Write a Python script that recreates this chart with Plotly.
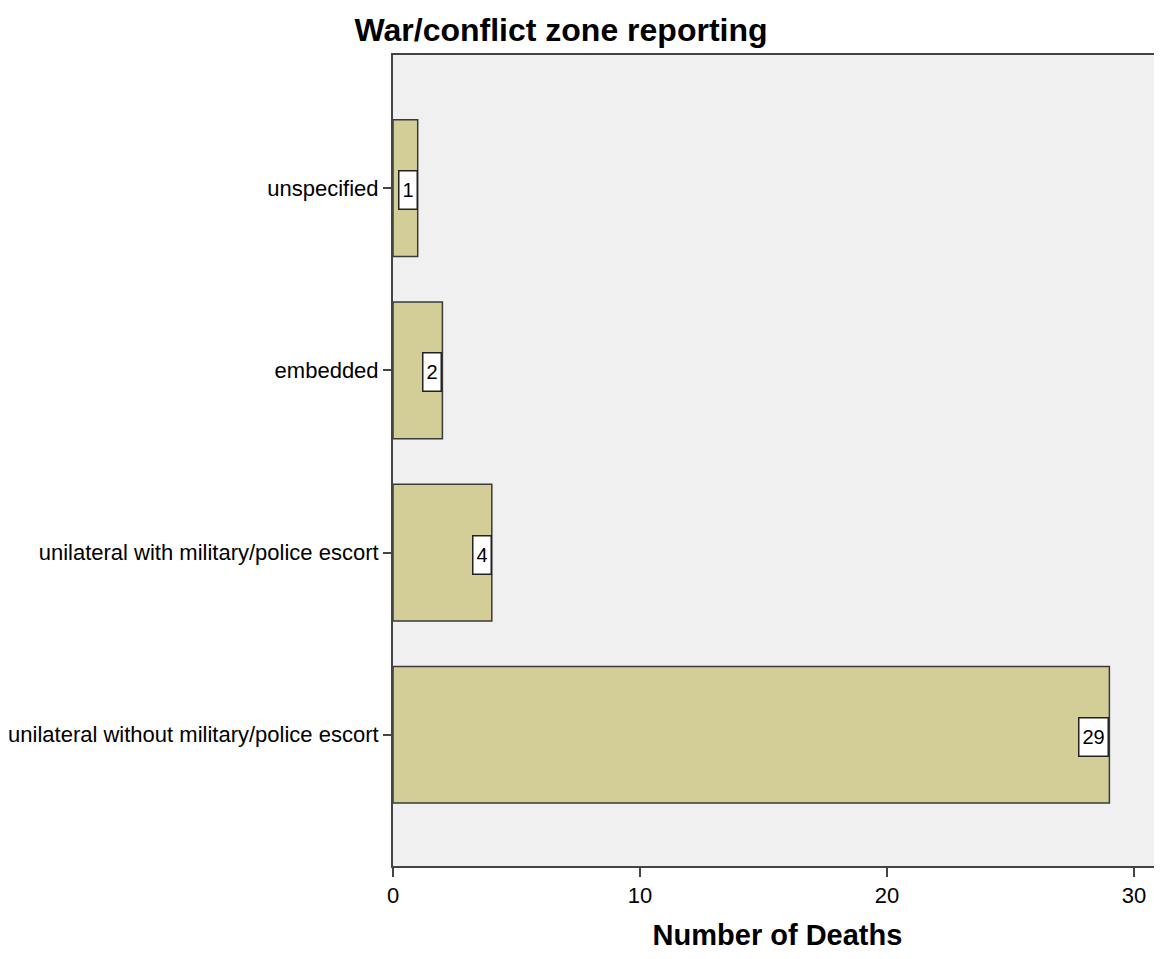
import plotly.graph_objects as go

categories = ["unspecified", "embedded", "unilateral with military/police escort",
              "unilateral without military/police escort"]
deaths = [1, 2, 4, 29]
x_ticks = [0, 10, 20, 30]

# The page body has an 8px margin, so the figure is sized/offset to fill the window.
W, H = 1154, 943

fig = go.Figure()
fig.add_trace(go.Bar(
    y=categories, x=deaths, orientation="h", width=0.75,
    marker=dict(color="#D3CE97", line=dict(color="#3a3a3a", width=1.5)),
    hoverinfo="x+y",
))

for c, v in zip(categories, deaths):
    fig.add_annotation(
        x=v, y=c, xref="x", yref="y", text=str(v), showarrow=False,
        xanchor="right", yanchor="middle", yshift=-2,
        font=dict(family="Liberation Sans, Arial", size=20, color="#000"),
        bgcolor="white", bordercolor="#222", borderwidth=1.5, borderpad=3,
        height=31,
    )

fig.update_layout(
    width=W, height=H,
    margin=dict(l=385, r=0, t=47, b=83),
    paper_bgcolor="white", plot_bgcolor="#F0F0F0",
    showlegend=False,
    title=dict(text="<b>War/conflict zone reporting</b>", x=553 / W, xanchor="center",
               y=1 - 22 / H, yanchor="middle",
               font=dict(family="Liberation Sans, Arial", size=32, color="#000")),
    font=dict(family="Liberation Sans, Arial", size=22, color="#000"),
)

fig.update_xaxes(
    range=[0, 31.13], tickvals=x_ticks, ticktext=[str(t) for t in x_ticks],
    showgrid=False, zeroline=False,
    showline=True, linecolor="#444", linewidth=2, mirror=True,
    ticks="outside", ticklen=9, tickwidth=1.5, tickcolor="#444",
    tickfont=dict(size=22, family="Liberation Sans, Arial"),
    title=dict(text="<b>Number of Deaths</b>", standoff=22,
               font=dict(size=29, family="Liberation Sans, Arial")),
)
fig.update_yaxes(
    categoryorder="array", categoryarray=categories,
    range=[3.72, -0.73],
    showgrid=False, zeroline=False,
    showline=True, linecolor="#444", linewidth=2,
    ticks="outside", ticklen=8, tickwidth=1.5, tickcolor="#444",
    tickfont=dict(size=22, family="Liberation Sans, Arial"),
)

fig.write_html("out.html")
